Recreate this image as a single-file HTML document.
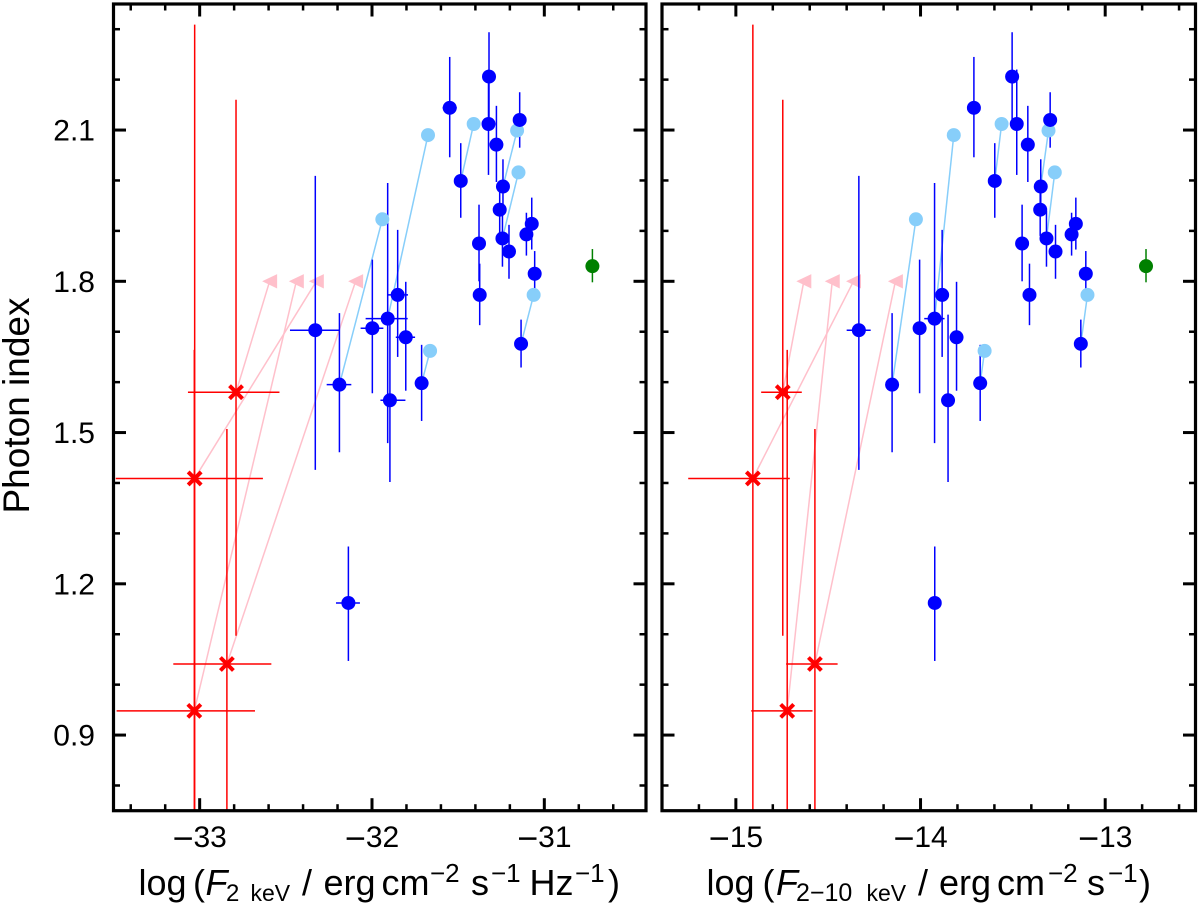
<!DOCTYPE html>
<html lang="en">
<head>
<meta charset="utf-8">
<title>Photon index vs X-ray flux</title>
<style>
html,body{margin:0;padding:0;background:#fff;}
svg{display:block;font-family:"Liberation Sans",sans-serif;}
</style>
</head>
<body>
<svg id="chart" width="1200" height="913" viewBox="0 0 1200 913" xmlns="http://www.w3.org/2000/svg">
<defs>
<clipPath id="clip-left"><rect x="113" y="4" width="533.5" height="807"/></clipPath>
<clipPath id="clip-right"><rect x="662" y="4" width="533.5" height="807"/></clipPath>
</defs>
<text transform="translate(29,513.5) rotate(-90)" font-size="37" fill="#000">Photon index</text>
<text y="895" font-size="36" fill="#000"><tspan x="138.5">log</tspan><tspan x="193">(</tspan><tspan x="205.5" font-style="italic">F</tspan><tspan x="226" y="901" font-size="24">2</tspan><tspan x="250.5" font-size="23">keV</tspan><tspan x="302" y="895">/</tspan><tspan x="323.5">erg</tspan><tspan x="381.5">cm</tspan><tspan x="430" y="882" font-size="26">−2</tspan><tspan x="471" y="895">s</tspan><tspan x="491" y="882" font-size="26">−1</tspan><tspan x="529.5" y="895">Hz</tspan><tspan x="575" y="882" font-size="26">−1</tspan><tspan x="608" y="895">)</tspan></text>
<text y="895" font-size="36" fill="#000"><tspan x="706.5">log</tspan><tspan x="762.5">(</tspan><tspan x="776" font-style="italic">F</tspan><tspan x="796" y="901" font-size="25">2−10</tspan><tspan x="866.5" font-size="23">keV</tspan><tspan x="918" y="895">/</tspan><tspan x="939">erg</tspan><tspan x="997">cm</tspan><tspan x="1048" y="882" font-size="26">−2</tspan><tspan x="1087" y="895">s</tspan><tspan x="1108" y="882" font-size="26">−1</tspan><tspan x="1139" y="895">)</tspan></text>
</svg>
<script>
// ---- data ----
const yTickValues = [0.9, 1.2, 1.5, 1.8, 2.1];
const yTickLabels = ['0.9', '1.2', '1.5', '1.8', '2.1'];
const xTickValuesLeft = [-33, -32, -31];
const xTickValuesRight = [-15, -14, -13];
const xTickLabelsLeft = ['33', '32', '31'];
const xTickLabelsRight = ['15', '14', '13'];

// detected sources (blue)
const gamma = [2.144,2.206,2.112,2.071,2.120,1.999,1.988,1.942,1.885,1.859,1.875,1.773,1.893,1.914,1.815,1.676,1.598,1.689,1.564,1.773,1.726,1.707,1.703,1.595,1.162];
const gammaErrUp = [.101,.088,.108,.077,.055,.075,.054,.046,.055,.053,.077,.062,.043,.052,.045,.048,.076,.110,.170,.129,.269,.136,.306,.142,.112];
const gammaErrDown = [.098,.092,.101,.074,.055,.073,.054,.052,.056,.054,.075,.060,.042,.051,.042,.047,.075,.106,.162,.123,.247,.129,.277,.134,.115];
const fluxLeft = [-31.549,-31.321,-31.324,-31.278,-31.143,-31.485,-31.240,-31.259,-31.243,-31.205,-31.379,-31.375,-31.104,-31.073,-31.056,-31.135,-31.712,-31.804,-31.896,-31.851,-31.909,-31.998,-32.329,-32.189,-32.137];
const fluxLeftErrLo = [.041,0,.035,0,0,0,0,0,0,0,0,0,0,0,0,0,0,.058,.055,.060,.128,.068,.147,.074,.072];
const fluxLeftErrHi = [.041,0,.041,0,0,0,0,0,0,0,0,0,0,0,0,0,0,.054,.090,.060,.116,.064,.140,.069,.067];
const fluxRight = [-13.711,-13.504,-13.479,-13.419,-13.298,-13.598,-13.349,-13.352,-13.318,-13.269,-13.450,-13.410,-13.182,-13.159,-13.105,-13.132,-13.677,-13.805,-13.851,-13.883,-13.924,-14.005,-14.334,-14.154,-13.923];
const fluxRightErrLo = [0,0,0,0,0,0,0,0,0,0,0,0,0,0,0,0,0,0,0,0,.056,0,.066,0,0];
const fluxRightErrHi = [0,0,0,0,0,0,0,0,0,0,0,0,0,0,0,0,0,0,0,0,.054,0,.064,0,0];

// earlier-epoch values (light blue) and index of the blue source each joins
const lightGamma = [2.090,1.923,2.112,2.099,2.016,1.773,1.662];
const lightFluxLeft = [-31.675,-31.940,-31.410,-31.158,-31.150,-31.062,-31.663];
const lightFluxRight = [-13.820,-14.025,-13.561,-13.307,-13.273,-13.096,-13.653];
const lightPartner = [20,23,5,6,8,15,16];

// reference source (green)
const greenGamma = [1.830];
const greenErrUp = [.034];
const greenErrDown = [.032];
const greenFluxLeft = [-30.721];
const greenFluxRight = [-12.779];

// weak sources (red)
const redGamma = [1.580,1.409,1.041,0.948];
const redErrUp = [.580,.900,.466,.716];
const redErrDown = [.483,.900,.500,.400];
const redFluxLeft = [-32.789,-33.029,-32.842,-33.031];
const redFluxLeftErrLo = [.279,.458,.311,.451];
const redFluxLeftErrHi = [.252,.396,.258,.352];
const redFluxRight = [-14.746,-14.908,-14.572,-14.722];
const redFluxRightErrLo = [.117,.350,.156,.195];
const redFluxRightErrHi = [.103,.200,.123,.137];

// limits (pink)
const limitGamma = [1.8,1.8,1.8,1.8];
const limitFluxLeft = [-32.594,-32.323,-32.095,-32.439];
const limitFluxRight = [-14.632,-14.363,-14.136,-14.478];

// ---- scales ----
const yDomain = [0.75, 2.35];
const plotTop = 4, plotBottom = 810.7;
function yScale(v){ return plotTop + (yDomain[1]-v)/(yDomain[1]-yDomain[0])*(plotBottom-plotTop); }

const svg = document.getElementById('chart');
function mk(tag, attrs, parent){
  const el = document.createElementNS('http://www.w3.org/2000/svg', tag);
  for (const k in attrs) el.setAttribute(k, attrs[k]);
  parent.appendChild(el);
  return el;
}

function drawPanel(cfg){
  const xScale = v => cfg.left + (v-cfg.domain[0])/(cfg.domain[1]-cfg.domain[0])*(cfg.right-cfg.left);
  const n = cfg.side;
  const panel = mk('g', {}, svg);
  
  
  const marks = mk('g', {'clip-path': 'url(#clip-' + n + ')'}, panel);
  
  

  function line(x1,y1,x2,y2,color,w,name,parent){
    const el = mk('line', {x1:x1,y1:y1,x2:x2,y2:y2,stroke:color,'stroke-width':w}, parent||marks);
    
    
    return el;
  }
  function circle(x,y,r,color,name){
    const el = mk('circle', {cx:x,cy:y,r:r,fill:color}, marks);
    
    
    return el;
  }

  // pink arrows
  redGamma.forEach((g,i)=>{
    const tx = xScale(cfg.limitFlux[i]), ty = yScale(limitGamma[i]);
    line(xScale(cfg.redFlux[i]), yScale(g), tx, ty, '#ffc0cb', 1.5, n + '-limit-line-' + i);
    const tri = mk('polygon', {points:(tx-7.5)+','+ty+' '+(tx+7.5)+','+(ty-7.2)+' '+(tx+7.5)+','+(ty+7.2), fill:'#ffc0cb'}, marks);
    
    
  });
  // light-blue connectors
  lightGamma.forEach((g,i)=>{
    const p = lightPartner[i];
    line(xScale(cfg.lightFlux[i]), yScale(g), xScale(cfg.flux[p]), yScale(gamma[p]), '#87cefa', 1.5, n + '-epoch-link-' + i);
  });
  // red error bars
  redGamma.forEach((g,i)=>{
    const x = xScale(cfg.redFlux[i]), y = yScale(g);
    line(x, yScale(g+redErrUp[i]), x, yScale(g-redErrDown[i]), '#ff0000', 1.5, n + '-weak-source-yerr-' + i);
    line(xScale(cfg.redFlux[i]-cfg.redLo[i]), y, xScale(cfg.redFlux[i]+cfg.redHi[i]), y, '#ff0000', 1.5, n + '-weak-source-xerr-' + i);
  });
  // blue error bars
  gamma.forEach((g,i)=>{
    const x = xScale(cfg.flux[i]), y = yScale(g);
    line(x, yScale(g+gammaErrUp[i]), x, yScale(g-gammaErrDown[i]), '#0000ff', 1.5, n + '-source-yerr-' + i);
    if (cfg.lo[i] > 0 || cfg.hi[i] > 0) {
      line(xScale(cfg.flux[i]-cfg.lo[i]), y, xScale(cfg.flux[i]+cfg.hi[i]), y, '#0000ff', 1.5, n + '-source-xerr-' + i);
    }
  });
  // green
  const gx = xScale(cfg.greenFlux[0]);
  line(gx, yScale(greenGamma[0]+greenErrUp[0]), gx, yScale(greenGamma[0]-greenErrDown[0]), '#008000', 1.5, n + '-reference-yerr');
  // points
  lightGamma.forEach((g,i)=>{
    circle(xScale(cfg.lightFlux[i]), yScale(g), 7, '#87cefa', n + '-epoch-point-' + i);
  });
  gamma.forEach((g,i)=>{
    circle(xScale(cfg.flux[i]), yScale(g), 7, '#0000ff', n + '-source-point-' + i);
  });
  circle(gx, yScale(greenGamma[0]), 7, '#008000', n + '-reference-point');
  // red crosses
  redGamma.forEach((g,i)=>{
    const x = xScale(cfg.redFlux[i]), y = yScale(g), s = 6.5;
    const cross = mk('path', {d:'M'+(x-s)+' '+(y-s)+'L'+(x+s)+' '+(y+s)+'M'+(x-s)+' '+(y+s)+'L'+(x+s)+' '+(y-s), stroke:'#ff0000','stroke-width':4,fill:'none'}, marks);
    
    
  });

  // ticks
  const axes = mk('g', {}, panel);
  
  
  for (let k = Math.ceil(yDomain[0]*10); k <= Math.floor(yDomain[1]*10); k++){
    const v = k/10;
    const major = yTickValues.some(t => Math.abs(t-v) < 1e-6);
    const len = major ? 12.5 : 6.5, w = major ? 3 : 2.5, y = yScale(v);
    line(cfg.left, y, cfg.left+len, y, '#000', w, n + '-y-tick-left', axes);
    line(cfg.right, y, cfg.right-len, y, '#000', w, n + '-y-tick-right', axes);
  }
  for (let k = Math.ceil(cfg.domain[0]*5); k <= Math.floor(cfg.domain[1]*5); k++){
    const v = k/5;
    const major = cfg.xTicks.some(t => Math.abs(t-v) < 1e-6);
    const len = major ? 12.5 : 6.5, w = major ? 3 : 2.5, x = xScale(v);
    line(x, plotBottom, x, plotBottom-len, '#000', w, n + '-x-tick-bottom', axes);
    line(x, plotTop, x, plotTop+len, '#000', w, n + '-x-tick-top', axes);
  }
  const frame = mk('rect', {x:cfg.left,y:plotTop,width:cfg.right-cfg.left,height:plotBottom-plotTop,fill:'none',stroke:'#000','stroke-width':3.2}, axes);
  
  

  // x tick labels
  cfg.xTicks.forEach((t,i)=>{
    const lab = mk('text', {x:xScale(t),y:847,'text-anchor':'middle','font-size':30,fill:'#000'}, panel);
    
    
    const m = mk('tspan', {'font-size':36,dy:3.5}, lab);
    m.textContent = '−';
    const d = mk('tspan', {dy:-3.5}, lab);
    d.textContent = cfg.xLabels[i];
  });
}

drawPanel({side:'left', left:113.5, right:646, domain:[-33.5,-30.41],
  flux:fluxLeft, lo:fluxLeftErrLo, hi:fluxLeftErrHi, lightFlux:lightFluxLeft, greenFlux:greenFluxLeft,
  redFlux:redFluxLeft, redLo:redFluxLeftErrLo, redHi:redFluxLeftErrHi, limitFlux:limitFluxLeft,
  xTicks:xTickValuesLeft, xLabels:xTickLabelsLeft});
drawPanel({side:'right', left:662, right:1195.5, domain:[-15.4,-12.511],
  flux:fluxRight, lo:fluxRightErrLo, hi:fluxRightErrHi, lightFlux:lightFluxRight, greenFlux:greenFluxRight,
  redFlux:redFluxRight, redLo:redFluxRightErrLo, redHi:redFluxRightErrHi, limitFlux:limitFluxRight,
  xTicks:xTickValuesRight, xLabels:xTickLabelsRight});

yTickValues.forEach((t,i)=>{
  const lab = mk('text', {x:95,y:yScale(t)+10.5,'text-anchor':'end','font-size':30,fill:'#000'}, svg);
  
  
  lab.textContent = yTickLabels[i];
});
</script>
</body>
</html>
